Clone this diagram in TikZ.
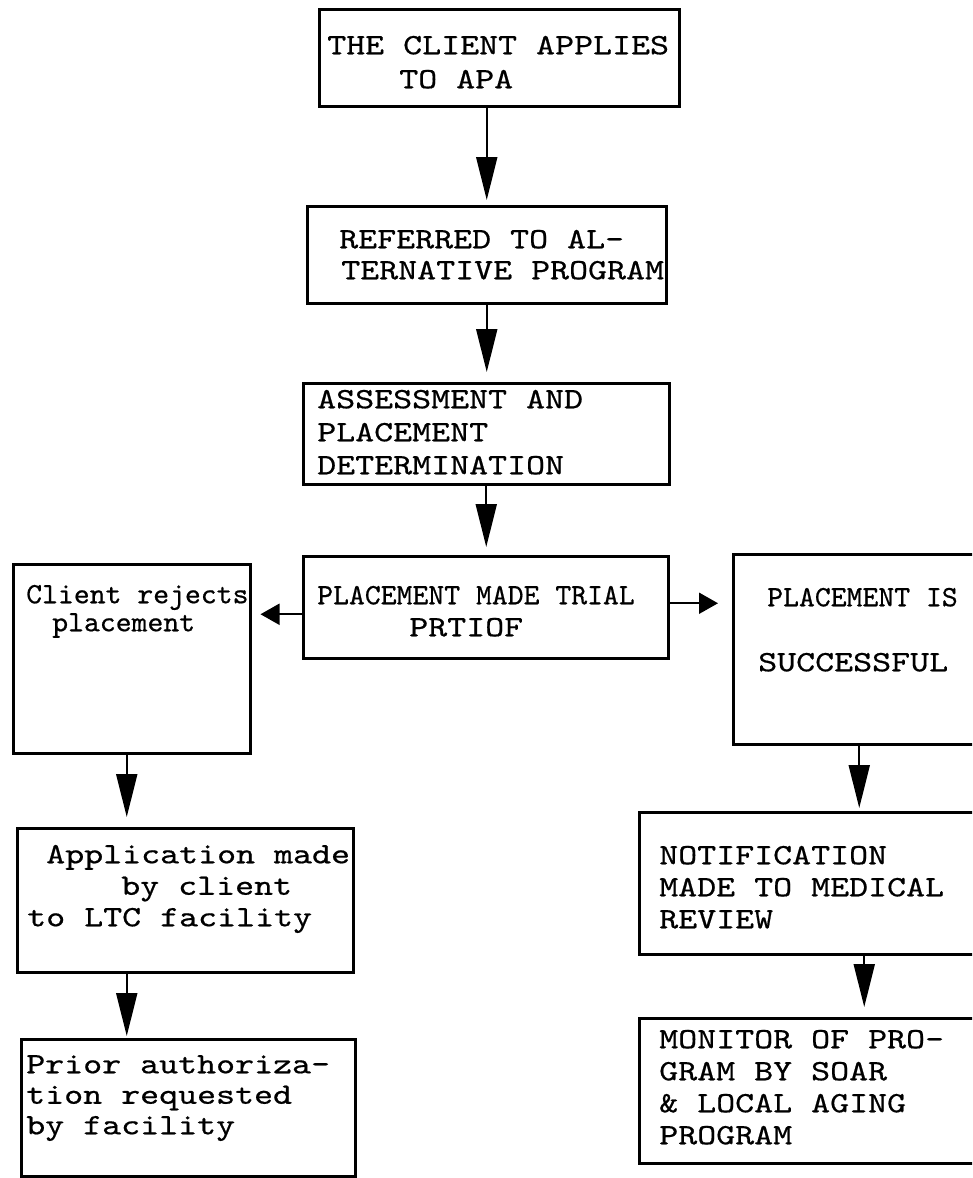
\documentclass[tikz,border=0pt]{standalone}
\usepackage{fontspec}
\usetikzlibrary{arrows.meta}
\newfontfamily\typer{lmmono10-regular.otf}[FakeStretch=1.226,FakeBold=0.6]
\newfontfamily\narrowtyper{lmmono10-regular.otf}[FakeStretch=1.025,FakeBold=0.6]
\newcommand\widetype{\typer\fontsize{29.5}{32}\selectfont\spaceskip=18.99pt\relax}
\newcommand\slimtype{\narrowtyper\fontsize{29.5}{32}\selectfont\spaceskip=15.88pt\relax}

\begin{document}
\begin{tikzpicture}[x=1pt, y=-1pt,
    box/.style={draw, line width=2.5pt, anchor=north west, align=left,
      inner sep=0pt, font=\widetype, execute at begin node=\widetype},
    narrow/.style={execute at begin node=\slimtype},
    flow/.style={line width=2pt, -{Triangle[length=43pt,width=21pt]}},
    side/.style={line width=2pt, -{Triangle[length=19pt,width=21pt]}}]
    \useasboundingbox (0,0) rectangle (972,1178);
    \clip (0,0) rectangle (972,1178);

    % Main column
    \node[box, text width=360pt, text height=45pt, text depth=52pt] (apply) at (318,8)
        {\hspace*{8pt}THE CLIENT APPLIES\\[2pt]\hspace*{80pt}TO APA};
    \node[box, text width=359pt, text height=42pt, text depth=55pt] (refer) at (306,205)
        {\hspace*{32pt}REFERRED TO AL-\\[-1pt]\hspace*{34pt}TERNATIVE PROGRAM};
    \node[box, text width=366pt, text height=25pt, text depth=76pt] (assess) at (302,382)
        {\hspace*{14pt}ASSESSMENT AND\\[1pt]\hspace*{14pt}PLACEMENT\\[1pt]\hspace*{14pt}DETERMINATION};
    \node[box, text width=365pt, text height=48pt, text depth=54pt] (trial) at (302,555)
        {\hspace*{14pt}{\slimtype PLACEMENT MADE TRIAL}\\\hspace*{106pt}PRTIOF};

    % Rejected branch
    \node[box, narrow, text width=237pt, text height=39pt, text depth=150pt] (rej) at (12,563)
        {\hspace*{13pt}Client rejects\\[-4pt]\hspace*{39pt}placement};
    \node[box, text width=336pt, text height=35pt, text depth=109pt] (app) at (16,827)
        {\hspace*{29pt}Application made\\[-0.5pt]\hspace*{104pt}by client\\[-0.5pt]\hspace*{10pt}to LTC facility};
    \node[box, text width=334pt, text height=34pt, text depth=103pt] (prior) at (20,1038)
        {\hspace*{5pt}Prior authoriza-\\[-1.5pt]\hspace*{5pt}tion requested\\[-1.5pt]\hspace*{5pt}by facility};

    % Successful branch
    \node[box, text width=244pt, text height=52pt, text depth=138pt] (succ) at (732,553)
        {\hspace*{34pt}{\slimtype PLACEMENT IS}\\[33pt]\hspace*{25pt}SUCCESSFUL};
    \node[box, text width=338pt, text height=52pt, text depth=90pt] (notif) at (638,811)
        {\hspace*{20pt}NOTIFICATION\\\hspace*{20pt}MADE TO MEDICAL\\\hspace*{20pt}REVIEW};
    \node[box, text width=338pt, text height=30pt, text depth=115pt] (monitor) at (638,1017)
        {\hspace*{20pt}MONITOR OF PRO-\\\hspace*{20pt}GRAM BY SOAR\\\hspace*{20pt}\& LOCAL AGING\\\hspace*{20pt}PROGRAM};

    % Arrows
    \draw[flow, shorten >=5pt] (apply.south -| refer.north) -- (refer.north);
    \draw[flow, shorten >=10pt] (refer.south) -- (refer.south |- assess.north);
    \draw[flow, shorten >=8pt] (assess.south) -- (assess.south |- trial.north);
    \draw[side, shorten >=9pt] ([yshift=-7pt]trial.west) -- ([yshift=-7pt]trial.west -| rej.east);
    \draw[side, shorten >=14pt] ([yshift=4pt]trial.east) -- ([yshift=4pt]trial.east -| succ.west);
    \draw[flow, shorten >=10pt] ([xshift=-5pt]rej.south) -- ([xshift=-5pt]rej.south |- app.north);
    \draw[flow, shorten >=2pt] ([xshift=-5pt]app.south -| rej.south) -- ([xshift=-5pt]prior.north -| rej.south);
    \draw[flow, shorten >=3pt] ([xshift=4pt]succ.south) -- ([xshift=4pt]succ.south |- notif.north);
    \draw[flow, shorten >=10pt] ([xshift=9pt]notif.south -| succ.south) -- ([xshift=9pt]monitor.north -| succ.south);
\end{tikzpicture}
\end{document}
